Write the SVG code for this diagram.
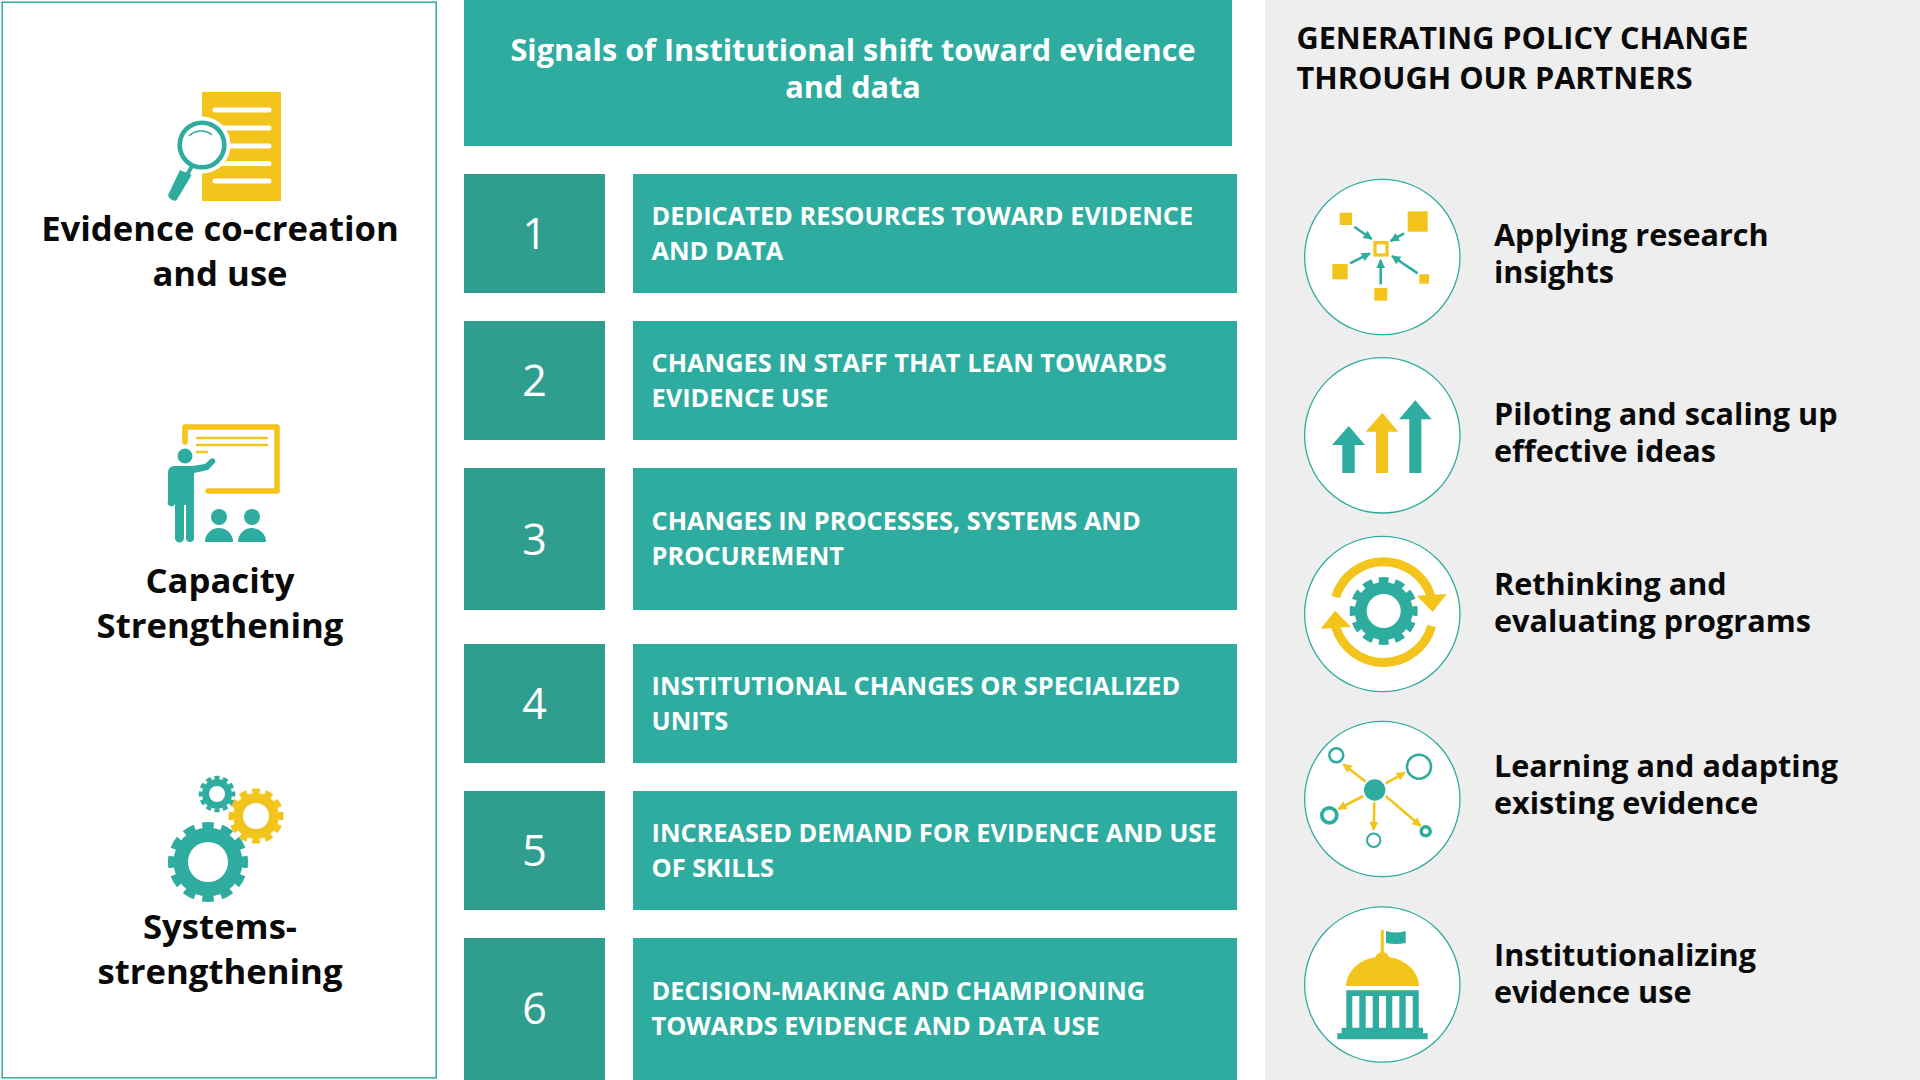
<svg xmlns="http://www.w3.org/2000/svg" width="1920" height="1080" viewBox="0 0 1920 1080">
<style>
text{font-family:"Open Sans","Noto Sans","Liberation Sans",sans-serif}
.t{fill:#2eac9f}.y{fill:#f2c41c}.w{fill:#fff}
.hd{font-size:34.700px;font-weight:700;fill:#0a0a0a;text-anchor:middle}
.num{font-size:43px;fill:#fff;text-anchor:middle}
.item{font-size:25.350px;font-weight:700;fill:#fff}
.lab{font-size:30.600px;font-weight:700;fill:#0a0a0a}
.ttl{font-size:30.650px;font-weight:700;fill:#fff;text-anchor:middle}
.rt{font-size:30.660px;font-weight:700;fill:#0a0a0a}
.nb{fill:#2f9e8f}.tb{fill:#2eac9f}
.circ{fill:#fff;stroke:#2eac9f;stroke-width:1.3}
.at{stroke:#2eac9f;stroke-width:2.6;fill:none;marker-end:url(#ah)}
.ay{stroke:#f2c41c;stroke-width:2.6;fill:none;marker-end:url(#ay)}
.ln{stroke:#fff;stroke-width:5;stroke-linecap:round;fill:none}
.ly{stroke:#f2c41c;stroke-linecap:butt;fill:none}
</style>
<defs>
<marker id="ah" markerUnits="userSpaceOnUse" viewBox="0 0 10 10" refX="9" refY="5" markerWidth="10" markerHeight="9" orient="auto"><path d="M0 0L10 5L0 10Z" fill="#2eac9f"/></marker>
<marker id="ay" markerUnits="userSpaceOnUse" viewBox="0 0 10 10" refX="9" refY="5" markerWidth="10" markerHeight="9" orient="auto"><path d="M0 0L10 5L0 10Z" fill="#f2c41c"/></marker>
</defs>
<rect width="1920" height="1080" fill="#fff"/>
<rect x="1265" y="0" width="655" height="1080" fill="#eeeeee"/>
<g id="panel-left"><rect x="2.2" y="2.2" width="434" height="1075.6" fill="#fff" stroke="#2eac9f" stroke-width="1.5"/></g>

<g id="evidence">
<rect class="y" x="202" y="92" width="79" height="109"/>
<path class="ln" d="M215 110H269M215 128H269M215 146H269M215 163.500H269M215 181H269"/>
<circle class="w" cx="202" cy="145" r="28.500"/>
<circle cx="202" cy="145" r="22.300" fill="#fff" stroke="#2eac9f" stroke-width="4.600"/>
<path d="M189 136A17 17 0 0 1 212 135" fill="none" stroke="#2eac9f" stroke-width="1.600"/>
<path d="M191.500 167L187.500 174" stroke="#2eac9f" stroke-width="4" fill="none"/>
<path class="t" d="M180 170L191.700 175L176.700 200Q174 202 170 198.500Q167.500 196 168.500 194Z"/>
<text class="hd" x="220" y="241">Evidence co-creation</text>
<text class="hd" x="220" y="286">and use</text>
</g>

<g id="capacity">
<path d="M185 442V427H277V491H208" fill="none" stroke="#f2c41c" stroke-width="5.600" stroke-linecap="round" stroke-linejoin="round"/>
<path d="M197 438H267M197 445H267M197 452H207" fill="none" stroke="#f2c41c" stroke-width="2.400" stroke-linecap="round"/>
<circle class="t" cx="185" cy="456" r="7.500"/>
<path class="t" d="M174 466H192L205 464L211 458.500A3 3 0 0 1 215 462.500L208 470L194 473V538A4 4 0 0 1 186 538V505H184V538A4 4 0 0 1 175 538V504A3.500 3.500 0 0 1 168 501V472A6 6 0 0 1 174 466Z"/>
<circle class="t" cx="219" cy="517" r="8"/><circle class="t" cx="252" cy="517" r="8"/>
<path class="t" d="M205 542A14 14 0 0 1 233 542ZM238 542A14 14 0 0 1 266 542Z"/>
<text class="hd" x="220" y="592.500">Capacity</text>
<text class="hd" x="220" y="638">Strengthening</text>
</g>

<g id="systems">
<circle class="t" cx="208" cy="862" r="34.500"/>
<circle cx="208" cy="862" r="36.500" fill="none" stroke="#2eac9f" stroke-width="7" pathLength="24" stroke-dasharray="1.200 0.800" stroke-dashoffset="0.600"/>
<circle class="w" cx="208" cy="862" r="20"/>
<circle class="y" cx="256" cy="816" r="23"/>
<circle cx="256" cy="816" r="25" fill="none" stroke="#f2c41c" stroke-width="5" pathLength="24" stroke-dasharray="1.200 0.800" stroke-dashoffset="0.600"/>
<circle class="w" cx="256" cy="816" r="13"/>
<circle class="t" cx="217" cy="794" r="15"/>
<circle cx="217" cy="794" r="16.500" fill="none" stroke="#2eac9f" stroke-width="3.500" pathLength="24" stroke-dasharray="1.200 0.800" stroke-dashoffset="0.600"/>
<circle class="w" cx="217" cy="794" r="8"/>
<text class="hd" x="220" y="939">Systems-</text>
<text class="hd" x="220" y="984">strengthening</text>
</g>

<g id="header">
<rect class="tb" x="464" y="0" width="768" height="146"/>
<text class="ttl" x="853" y="61">Signals of Institutional shift toward evidence</text>
<text class="ttl" x="853" y="98">and data</text>
</g>

<g id="signal-1"><rect class="nb" x="464" y="174" width="141" height="119"/><text class="num" x="534.500" y="249">1</text><rect class="tb" x="633" y="174" width="604" height="119"/><text class="item" x="651.500" y="224.500">DEDICATED RESOURCES TOWARD EVIDENCE</text><text class="item" x="651.500" y="259.500">AND DATA</text></g>
<g id="signal-2"><rect class="nb" x="464" y="321" width="141" height="119"/><text class="num" x="534.500" y="396">2</text><rect class="tb" x="633" y="321" width="604" height="119"/><text class="item" x="651.500" y="371.500">CHANGES IN STAFF THAT LEAN TOWARDS</text><text class="item" x="651.500" y="406.500">EVIDENCE USE</text></g>
<g id="signal-3"><rect class="nb" x="464" y="468" width="141" height="142"/><text class="num" x="534.500" y="554.500">3</text><rect class="tb" x="633" y="468" width="604" height="142"/><text class="item" x="651.500" y="529.500">CHANGES IN PROCESSES, SYSTEMS AND</text><text class="item" x="651.500" y="564.500">PROCUREMENT</text></g>
<g id="signal-4"><rect class="nb" x="464" y="644" width="141" height="119"/><text class="num" x="534.500" y="718.500">4</text><rect class="tb" x="633" y="644" width="604" height="119"/><text class="item" x="651.500" y="694.500">INSTITUTIONAL CHANGES OR SPECIALIZED</text><text class="item" x="651.500" y="729.500">UNITS</text></g>
<g id="signal-5"><rect class="nb" x="464" y="791" width="141" height="119"/><text class="num" x="534.500" y="865.500">5</text><rect class="tb" x="633" y="791" width="604" height="119"/><text class="item" x="651.500" y="841.500">INCREASED DEMAND FOR EVIDENCE AND USE</text><text class="item" x="651.500" y="876.500">OF SKILLS</text></g>
<g id="signal-6"><rect class="nb" x="464" y="938" width="141" height="142"/><text class="num" x="534.500" y="1024">6</text><rect class="tb" x="633" y="938" width="604" height="142"/><text class="item" x="651.500" y="1000">DECISION-MAKING AND CHAMPIONING</text><text class="item" x="651.500" y="1035">TOWARDS EVIDENCE AND DATA USE</text></g>

<g id="right-title">
<text class="rt" x="1296.500" y="49">GENERATING POLICY CHANGE</text>
<text class="rt" x="1296.500" y="89">THROUGH OUR PARTNERS</text>
</g>

<g id="applying">
<circle class="circ" cx="1382.300" cy="257" r="77.700"/>
<g class="y"><rect x="1339.700" y="212.700" width="12.300" height="12.300"/><rect x="1407.700" y="211.300" width="20" height="20.400"/><rect x="1332.300" y="264" width="15.400" height="15.300"/><rect x="1374.300" y="288" width="13" height="12.700"/><rect x="1419.300" y="274.300" width="9.700" height="9.400"/></g>
<rect x="1375" y="242.700" width="12" height="12.300" fill="#fff" stroke="#f2c41c" stroke-width="3.300"/>
<path class="at" d="M1354.300 226.700L1371.700 239"/><path class="at" d="M1404 233.300L1390.700 241"/><path class="at" d="M1350 263.300L1370 253.300"/><path class="at" d="M1380.700 284.300V260"/><path class="at" d="M1417.700 273.300L1392 256"/>
<text class="lab" x="1494" y="246">Applying research</text><text class="lab" x="1494" y="283">insights</text>
</g>

<g id="piloting">
<circle class="circ" cx="1382.300" cy="435.300" r="77.700"/>
<path class="t" d="M1348.700 426L1365 445H1354.700V473H1342.300V445H1332Z"/>
<path class="y" d="M1382.300 412.700L1398.300 431.700H1388V473H1376V431.700H1365.700Z"/>
<path class="t" d="M1415.300 400.300L1431.700 419.300H1421.300V473H1409.300V419.300H1399Z"/>
<text class="lab" x="1494" y="425">Piloting and scaling up</text><text class="lab" x="1494" y="462">effective ideas</text>
</g>

<g id="rethinking">
<circle class="circ" cx="1382.300" cy="614" r="77.700"/>
<circle class="t" cx="1383.700" cy="611" r="29"/>
<circle cx="1383.700" cy="611" r="31" fill="none" stroke="#2eac9f" stroke-width="6" pathLength="24" stroke-dasharray="1.200 0.800" stroke-dashoffset="0.600"/>
<circle class="w" cx="1383.700" cy="611" r="17"/>
<path class="ly" stroke-width="9" d="M1335.700 597A50 50 0 0 1 1431 596"/>
<path class="y" d="M1416.700 595.700L1446.700 594L1432.700 612Z"/>
<path class="ly" stroke-width="9" d="M1431.700 626A50 50 0 0 1 1335.700 627"/>
<path class="y" d="M1320.700 628.700L1351 627L1335 610.700Z"/>
<text class="lab" x="1494" y="595">Rethinking and</text><text class="lab" x="1494" y="632">evaluating programs</text>
</g>

<g id="learning">
<circle class="circ" cx="1382.300" cy="799" r="77.700"/>
<circle class="t" cx="1374.700" cy="790" r="10.700"/>
<g fill="#fff" stroke="#2eac9f"><circle cx="1336.300" cy="755.300" r="7" stroke-width="2.500"/><circle cx="1419" cy="766.700" r="12" stroke-width="2.600"/><circle cx="1329.300" cy="815.300" r="7.500" stroke-width="3.700"/><circle cx="1373.700" cy="840.300" r="6.700" stroke-width="2"/><circle cx="1425.700" cy="831.300" r="4.500" stroke-width="3.500"/></g>
<path class="ay" d="M1365.700 781.700L1343.300 764.300"/><path class="ay" d="M1385.700 783.300L1405 772.700"/><path class="ay" d="M1363.300 796L1338.300 809"/><path class="ay" d="M1374.300 802.300L1373.700 830"/><path class="ay" d="M1385.700 796L1420.700 826"/>
<text class="lab" x="1494" y="777">Learning and adapting</text><text class="lab" x="1494" y="813.500">existing evidence</text>
</g>

<g id="institutionalizing">
<circle class="circ" cx="1382.300" cy="984.500" r="77.700"/>
<rect class="y" x="1380.800" y="930" width="3" height="24"/>
<path class="t" d="M1386 931Q1396 934 1405.700 931V943Q1396 945 1386 943Z"/>
<path class="y" d="M1346 986A36.500 30 0 0 1 1375.500 957A7 6.500 0 0 1 1389 957A36.500 30 0 0 1 1419 986Z"/>
<path class="t" fill-rule="evenodd" d="M1346.300 990.300H1418.700V1027.700H1423V1033.300H1427.700V1039.300H1337.300V1033.300H1341.700V1027.700H1346.300ZM1352.300 996V1027.700H1359.300V996ZM1365.700 996V1027.700H1372.700V996ZM1379 996V1027.700H1386V996ZM1392.300 996V1027.700H1399.300V996ZM1405.700 996V1027.700H1412.700V996Z"/>
<text class="lab" x="1494" y="966">Institutionalizing</text><text class="lab" x="1494" y="1003">evidence use</text>
</g>
</svg>
